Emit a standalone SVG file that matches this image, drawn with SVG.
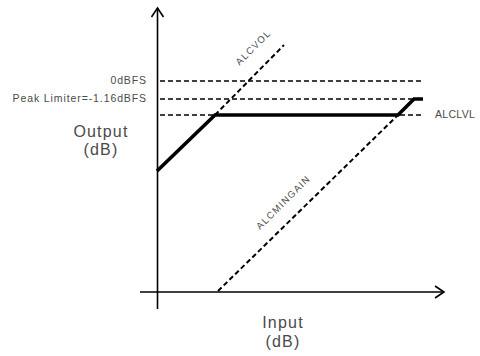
<svg xmlns="http://www.w3.org/2000/svg" width="480" height="356" viewBox="0 0 480 356">
<style>
.ax{stroke:#000;stroke-width:1.6;fill:none}
.dash{stroke:#000;stroke-width:1.5;stroke-dasharray:5,3;fill:none}
.ddash{stroke:#000;stroke-width:2;stroke-dasharray:5,3;fill:none}
.thick{stroke:#000;stroke-width:3.6;fill:none;stroke-linejoin:miter}
.lbl{font-family:"Liberation Sans",Arial,sans-serif;font-size:10.5px;fill:#4a4a4a;letter-spacing:0.9px}
.big{font-family:"Liberation Sans",Arial,sans-serif;font-size:16px;fill:#4a4a4a;text-anchor:middle;letter-spacing:1.2px}
.diag{font-family:"Liberation Sans",Arial,sans-serif;font-size:9.5px;fill:#4a4a4a;text-anchor:middle;letter-spacing:1.3px}
</style>
<rect width="480" height="356" fill="#fff"/>
<g id="axes">
<line class="ax" x1="157.5" y1="309" x2="157.5" y2="8"/>
<polyline class="ax" points="151.5,17 157.5,8 163.5,17"/>
<line class="ax" x1="140" y1="292" x2="444" y2="292"/>
<polyline class="ax" points="435,286 444,292 435,298"/>
</g>
<g id="connectors">
<line class="dash" x1="160" y1="81" x2="423" y2="81"/>
<line class="dash" x1="160" y1="99" x2="423" y2="99"/>
<line class="dash" x1="160" y1="115" x2="422" y2="115"/>
<line class="ddash" x1="215" y1="115" x2="284" y2="45"/>
<line class="ddash" x1="218" y1="291" x2="399" y2="114"/>
<polyline class="thick" points="157,171 215,115 398,115 414,99 423,99"/>
</g>
<g id="labels">
<text class="lbl" x="147" y="84" text-anchor="end">0dBFS</text>
<text class="lbl" x="147" y="102" text-anchor="end">Peak Limiter=-1.16dBFS</text>
<text class="lbl" x="435" y="118" style="letter-spacing:0.3px">ALCLVL</text>
<text class="big" x="101" y="137">Output</text>
<text class="big" x="101" y="155">(dB)</text>
<text class="big" x="283" y="328">Input</text>
<text class="big" x="283" y="347">(dB)</text>
<text class="diag" transform="translate(253.5,47.5) rotate(-45)" x="0" y="3">ALCVOL</text>
<text class="diag" transform="translate(283.5,202.5) rotate(-45)" x="0" y="3">ALCMINGAIN</text>
</g>
</svg>
